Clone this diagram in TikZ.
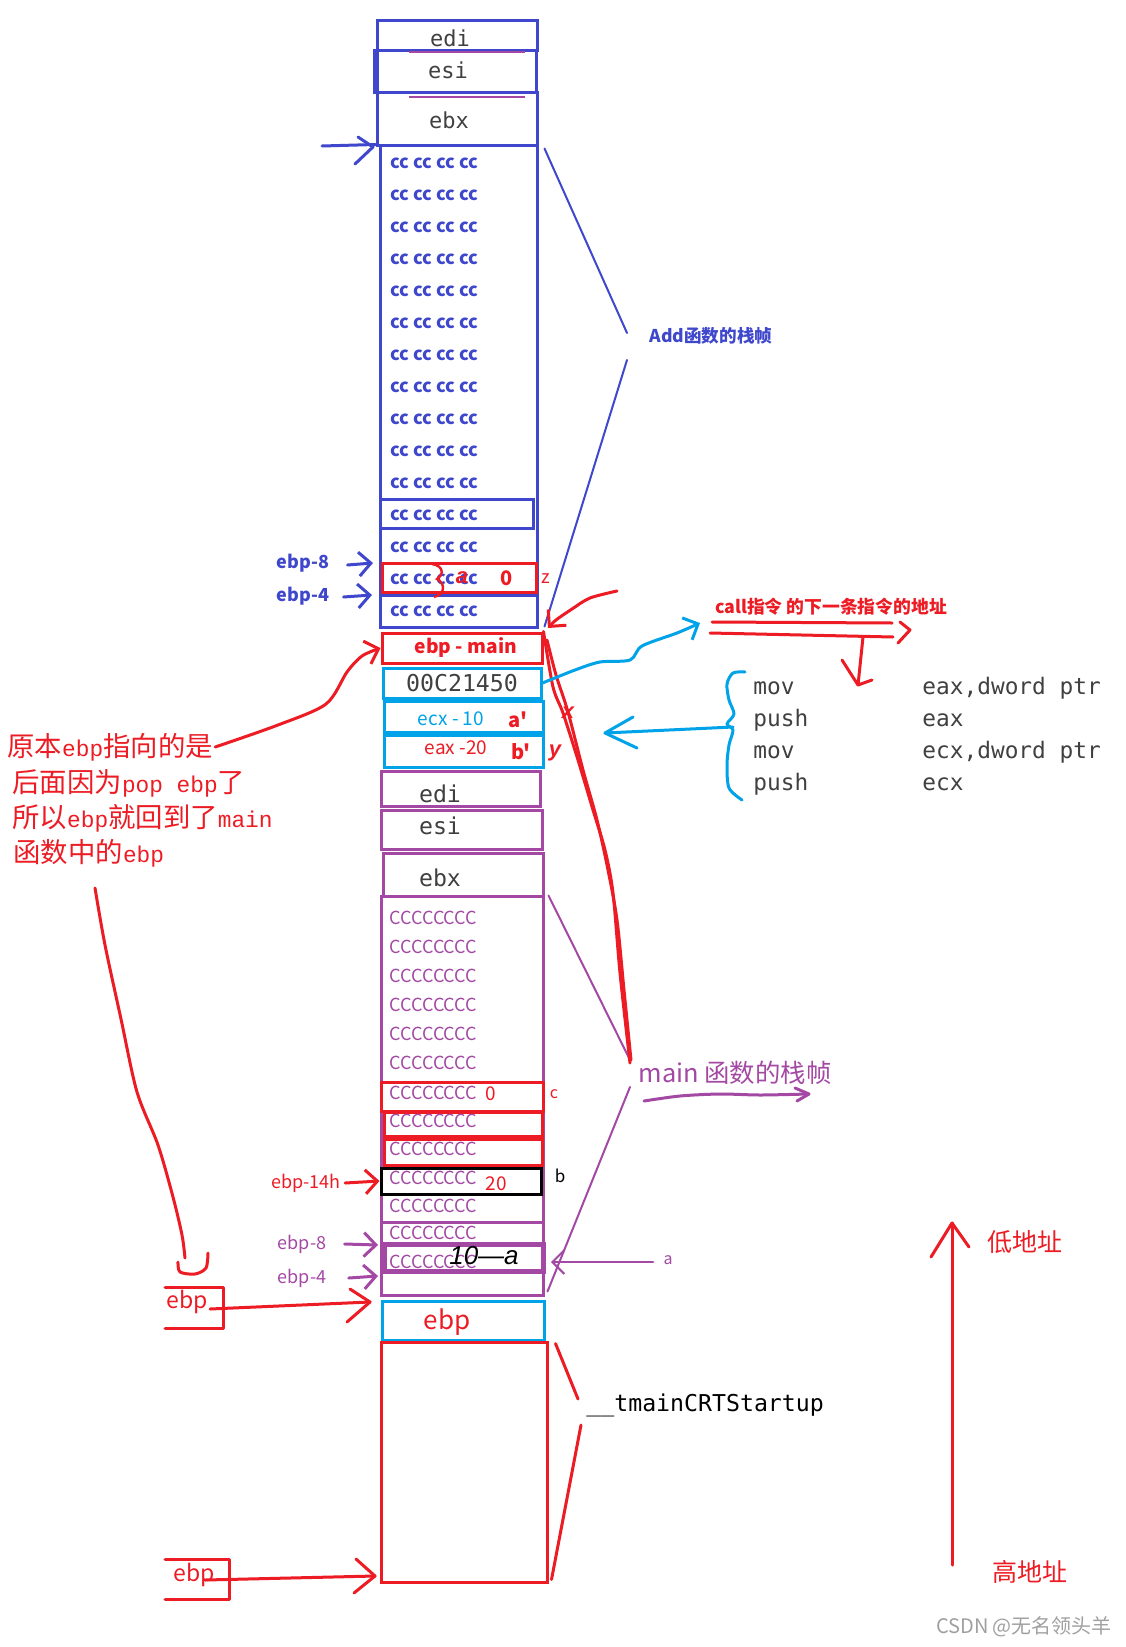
\documentclass[tikz,border=0pt]{standalone}
\usepackage{fontspec}
\newfontfamily\cjk{Noto Sans CJK SC}
\newfontfamily\mono{DejaVu Sans Mono}
\newfontfamily\lmono{Liberation Mono}
\newfontfamily\lsans{Liberation Sans}
\usetikzlibrary{fit,arrows.meta}
\definecolor{pblue}{HTML}{3F48CC}
\definecolor{ppurple}{HTML}{A349A4}
\definecolor{pred}{HTML}{ED1C24}
\definecolor{pcyan}{HTML}{00A2E8}
\definecolor{pgray}{HTML}{404040}
\definecolor{wmgray}{HTML}{A0A0A0}
\newcommand\myfs[1]{\fontsize{#1}{#1}\selectfont}
\newcommand\lat[1]{{\lmono\myfs{11.4}#1}}
\begin{document}
\begin{tikzpicture}[x=0.5pt,y=-0.5pt,
  frm/.style={draw,inner sep=0pt,line width=1.5pt},
  bbox/.style={frm,draw=pblue},
  rbox/.style={frm,draw=pred},
  cbox/.style={frm,draw=pcyan},
  pbox/.style={frm,draw=ppurple},
  kbox/.style={frm,draw=black},
  lbl/.style={inner sep=0pt},
  ccb/.style={lbl,anchor=west,text=pblue,font=\cjk\bfseries\myfs{9.1}},
  ccp/.style={lbl,anchor=west,text=ppurple,font=\cjk\myfs{9.0}},
  monot/.style={lbl,text=pgray,font=\mono\myfs{11}},
  note/.style={lbl,anchor=west,text=pred,font=\cjk\myfs{13.7}},
  hand/.style={line width=1.5pt,line cap=round,line join=round},
  thinhand/.style={line width=1pt,line cap=round,line join=round},
  barb/.style={-{Straight Barb[length=6pt,width=12pt]}},
]
\fill[white] (0,0) rectangle (1125,1647);
\useasboundingbox (0,0) rectangle (1125,1647);

% ---------------- Add frame ----------------
\node[bbox,fit={(377,21)(537,51)}] (edi1) {};
\node[bbox,fit={(374,51)(536,93)}] (esi1) {};
\node[bbox,fit={(377,93)(537,146)}] (ebx1) {};
\draw[pblue,line width=3pt] (375.5,51) -- (375.5,93);
\draw[ppurple,line width=1.2pt] (409,52) -- (525,52);
\draw[ppurple,line width=1.2pt] (409,97) -- (525,97);
\node[monot,anchor=base] at (450,47) {edi};
\node[monot,anchor=base] at (448,79) {esi};
\node[monot,anchor=base] at (449,129) {ebx};

\node[bbox,fit={(380,146)(537,627)}] (addcc) {};
\node[bbox,fit={(380,499)(533,528)}] (addr11) {};
\node[rbox,fit={(382,563)(536,592)}] (addr13) {};
\node[bbox,fit={(380,595)(537,627)}] (addr14) {};
\foreach \yy in {163,195,227,259,291,323,355,387,419,451,483,515,547,579,611}
  \node[ccb] at (390,\yy) {cc cc cc cc};
\draw[pred,line width=1.2pt] (432,564) .. controls (445,566) and (443,576) .. (437,579) .. controls (445,583) and (446,594) .. (434,597);
\node[lbl,text=pred,font=\lsans\bfseries\itshape\myfs{11}] at (462,578) {a};
\node[lbl,text=pred,font=\cjk\bfseries\myfs{10}] at (507,578) {0};
\node[lbl,text=pred,font=\cjk\myfs{9}] at (546,579) {z};

\node[lbl,text=pblue,font=\cjk\bfseries\myfs{9}] (ebp8a) at (303,563) {ebp-8};
\node[lbl,text=pblue,font=\cjk\bfseries\myfs{9}] (ebp4a) at (303,596) {ebp-4};
\coordinate (t8a) at (373,563);
\coordinate (t4a) at (372,595);
\draw[hand,pblue,barb] ([xshift=9pt,yshift=-1pt]ebp8a.east) -- (t8a);
\draw[hand,pblue,barb] ([xshift=7pt,yshift=-0.5pt]ebp4a.east) -- (t4a);

\coordinate (topar) at (322,146);
\draw[hand,pblue] (topar) -- (edi1.south west |- addcc.north west);
\draw[hand,pblue] (358,137) -- (373,147) -- (355,164);

\node[lbl,text=pblue,font=\cjk\bfseries\myfs{8.8}] (addlbl) at (711,336) {Add函数的栈帧};
\coordinate (addl1) at (627,333);
\coordinate (addl2) at (627,360);
\draw[thinhand,pblue] ([xshift=3pt,yshift=-2pt]addcc.north east) -- (addl1);
\draw[thinhand,pblue] (addl2) -- ([xshift=3pt,yshift=1pt]addcc.south east);

% ---------------- between frames ----------------
\node[rbox,fit={(382,633)(542,663)}] (ebpmain) {};
\node[lbl,text=pred,font=\cjk\bfseries\myfs{9.6}] at (466,648) {ebp - main};
\node[cbox,fit={(383,668)(541,698)}] (ret) {};
\node[monot,font=\mono\myfs{11.6}] at (462,683) {00C21450};
\node[cbox,fit={(384,701)(543,732)}] (ecxb) {};
\node[lbl,text=pcyan,font=\cjk\myfs{9.5}] at (451,719) {ecx - 10};
\node[lbl,text=pred,font=\cjk\bfseries\myfs{10}] at (518,720) {a'};
\node[cbox,fit={(384,735)(543,767)}] (eaxb) {};
\node[lbl,text=pred,font=\cjk\myfs{9.5}] at (456,748) {eax -20};
\node[lbl,text=pred,font=\cjk\bfseries\myfs{10}] at (521,752) {b'};

% ---------------- main frame ----------------
\node[pbox,fit={(381,771)(540,806)}] (edi2) {};
\node[pbox,fit={(381,810)(542,849)}] (esi2) {};
\node[pbox,fit={(383,853)(543,896)}] (ebx2) {};
\node[monot,anchor=base,font=\mono\myfs{11.6}] at (440,802) {edi};
\node[monot,anchor=base,font=\mono\myfs{11.6}] at (440,834) {esi};
\node[monot,anchor=base,font=\mono\myfs{11.6}] at (440,886) {ebx};
\node[pbox,fit={(381,896)(543,1295)}] (maincc) {};
\node[rbox,fit={(381,1082)(543,1111)}] (mc) {};
\node[rbox,fit={(384,1112)(542,1136)}] (mr2) {};
\node[rbox,fit={(384,1139)(542,1165)}] (mr3) {};
\node[kbox,fit={(381,1168)(541,1194)}] (mb) {};
\draw[ppurple,line width=1.5pt] (381,1222) -- (543,1222);
\node[pbox,line width=2.5pt,fit={(384,1244)(543,1271)}] (ma) {};
\foreach \yy in {918,947,976,1005,1034,1063,1093,1121,1149,1178,1206,1233,1262}
  \node[ccp] at (389,\yy) {CCCCCCCC};
\node[lbl,text=pred,font=\cjk\myfs{9.5}] at (491,1094) {0};
\node[lbl,text=pred,font=\cjk\myfs{8}] at (554,1094) {c};
\node[lbl,text=pred,font=\cjk\myfs{9.5}] at (496,1184) {20};
\node[lbl,text=black,font=\cjk\myfs{8.5}] at (560,1176) {b};
\node[lbl,text=black,font=\lsans\itshape\myfs{13}] at (484,1256) {10—a};

\node[lbl,text=pred,font=\cjk\myfs{9}] (ebp14) at (306,1183) {ebp-14h};
\draw[hand,pred,barb] ([xshift=2pt]ebp14.east) -- (mb.west);
\node[lbl,text=ppurple,font=\cjk\myfs{9}] (ebp8b) at (302,1244) {ebp-8};
\node[lbl,text=ppurple,font=\cjk\myfs{9}] (ebp4b) at (302,1278) {ebp-4};
\coordinate (t8b) at (378,1245);
\coordinate (t4b) at (378,1276);
\draw[hand,ppurple,barb] ([xshift=9pt]ebp8b.east) -- (t8b);
\draw[hand,ppurple,barb] ([xshift=11pt]ebp4b.east) -- (t4b);

\node[lbl,text=ppurple,font=\cjk\myfs{8}] (alab) at (668,1260) {a};
\coordinate (ta) at (551,1262);
\draw[thinhand,ppurple,barb] ([xshift=-5pt,yshift=-1pt]alab.west) -- (ta);

\node[lbl,text=ppurple,font=\cjk\myfs{12.7}] (mainlbl) at (735,1073) {main 函数的栈帧};
\coordinate (ml1) at (630,1060);
\coordinate (ml2) at (630,1087);
\draw[thinhand,ppurple] ([xshift=2pt,yshift=-0.5pt]maincc.north east) -- (ml1);
\draw[thinhand,ppurple] (ml2) -- ([xshift=1.5pt,yshift=2.5pt]maincc.south east);
\draw[hand,ppurple] plot[smooth] coordinates {(644,1101)(680,1096)(720,1094)(760,1095)(808,1094)};
\draw[hand,ppurple] (795,1088) -- (809,1094) -- (797,1101);

% ---------------- bottom ----------------
\node[cbox,fit={(382,1301)(544,1340)}] (ebpc) {};
\node[lbl,text=pred,font=\cjk\myfs{13}] at (447,1322) {ebp};
\node[rbox,fit={(381,1342)(547,1582)}] (crt) {};
\node[lbl,text=black,anchor=base west,font=\mono\myfs{11.6}] (crtlbl) at (586,1411) {\_\_tmainCRTStartup};
\draw[hand,pred] ([xshift=3.5pt,yshift=-1.5pt]crt.north east) -- (578,1399);
\draw[hand,pred] (581,1425) -- ([xshift=1.5pt,yshift=2pt]crt.south east);

\draw[hand,pred] (165,1287) -- (223,1287) -- (223,1328) -- (165,1328);
\node[lbl,text=pred,font=\cjk\myfs{11.5}] (ebpL1) at (187,1302) {ebp};
\coordinate (tL1) at (370,1302);
\draw[hand,pred] (210,1309) -- (tL1);
\draw[hand,pred] (350,1289) -- (tL1) -- (347,1322);
\draw[hand,pred] (165,1559) -- (229,1559) -- (229,1599) -- (165,1599);
\node[lbl,text=pred,font=\cjk\myfs{11.5}] (ebpL2) at (194,1575) {ebp};
\coordinate (tL2) at (375,1576);
\draw[hand,pred] (205,1580) -- (tL2);
\draw[hand,pred] (356,1559) -- (tL2) -- (354,1593);

% address direction
\coordinate (hiaddr) at (952,1565);
\coordinate (loaddr) at (952,1223);
\draw[hand,pred] (hiaddr) -- (loaddr);
\draw[hand,pred] (931,1257) -- (loaddr) -- (969,1247);
\node[lbl,text=pred,font=\cjk\myfs{12.5}] at (1025,1242) {低地址};
\node[lbl,text=pred,font=\cjk\myfs{12.5}] at (1030,1572) {高地址};
\node[lbl,text=wmgray,font=\cjk\myfs{10}] at (1024,1627) {CSDN @无名领头羊};

% ---------------- left note ----------------
\node[note] (n1) at (7,747) {原本\lat{ebp}指向的是};
\node[note] (n2) at (12,783) {后面因为\lat{pop ebp}了};
\node[note] (n3) at (12,818) {所以\lat{ebp}就回到了\lat{main}};
\node[note] (n4) at (13,853) {函数中的\lat{ebp}};
\draw[hand,pred,barb] plot[smooth] coordinates {([xshift=1pt]n1.east)(278,725)(326,704)(347,672)(362,656)(ebpmain.west)};
\draw[hand,pred] plot[smooth] coordinates {(95,888)(105,945)(121,1019)(137,1092)(158,1145)(173,1197)(182,1235)(185,1258)};
\draw[hand,pred] plot[smooth] coordinates {(178,1262)(180,1272)(195,1274)(206,1268)(208,1253)};

% ---------------- red return path ----------------
\draw[hand,pred,barb] plot[smooth] coordinates {(617,591)(590,598)(572,609)(556,620)(548,628)};
\draw[hand,pred] plot[smooth] coordinates {(ebpmain.north east)(553,687)(563,713)(578,760)(593,810)(605,850)(613,893)(620,973)(630,1063)};
\draw[hand,pred] plot[smooth] coordinates {(547,640)(556,675)(568,712)(583,770)(597,820)(608,870)(617,920)(624,990)(631,1060)};
\node[lbl,text=pred,font=\lsans\bfseries\itshape\myfs{11}] at (568,713) {x};
\node[lbl,text=pred,font=\lsans\bfseries\itshape\myfs{11}] at (555,753) {y};

% ---------------- call annotation ----------------
\node[lbl,text=pred,font=\cjk\bfseries\myfs{8.9}] (calllbl) at (831,607) {call指令 的下一条指令的地址};
\draw[hand,pred] (712,622) -- (892,623);
\draw[hand,pred] (710,633) -- (893,637);
\draw[hand,pred] (900,622) -- (910,630) -- (898,643);
\coordinate (callturn) at (863,637);
\coordinate (calltip) at (858,685);
\draw[hand,pred] (callturn) -- (calltip);
\draw[hand,pred] (842,660) -- (calltip) -- (872,680);

\draw[hand,pcyan,barb] plot[smooth] coordinates {(ret.east)(575,670)(600,662)(630,660)(642,646)(677,633)(700,623)};

% assembly
\node[monot,anchor=base west,font=\mono\myfs{11.4}] at (753,694) {mov};
\node[monot,anchor=base west,font=\mono\myfs{11.4}] at (753,726) {push};
\node[monot,anchor=base west,font=\mono\myfs{11.4}] at (753,758) {mov};
\node[monot,anchor=base west,font=\mono\myfs{11.4}] at (753,790) {push};
\node[monot,anchor=base west,font=\mono\myfs{11.4}] at (922,694) {eax,dword ptr};
\node[monot,anchor=base west,font=\mono\myfs{11.4}] at (922,726) {eax};
\node[monot,anchor=base west,font=\mono\myfs{11.4}] at (922,758) {ecx,dword ptr};
\node[monot,anchor=base west,font=\mono\myfs{11.4}] at (922,790) {ecx};
\draw[hand,pcyan] plot[smooth] coordinates {(745,672)(733,673)(727,684)(729,700)(734,714)(727,724)(733,730)(729,745)(727,765)(729,788)(742,800)};
\coordinate (bracemid) at (733,727);
\coordinate (bracetip) at (605,733);
\draw[hand,pcyan] (bracemid) -- (bracetip);
\draw[hand,pcyan] (633,717) -- (bracetip) -- (637,748);
\end{tikzpicture}
\end{document}
